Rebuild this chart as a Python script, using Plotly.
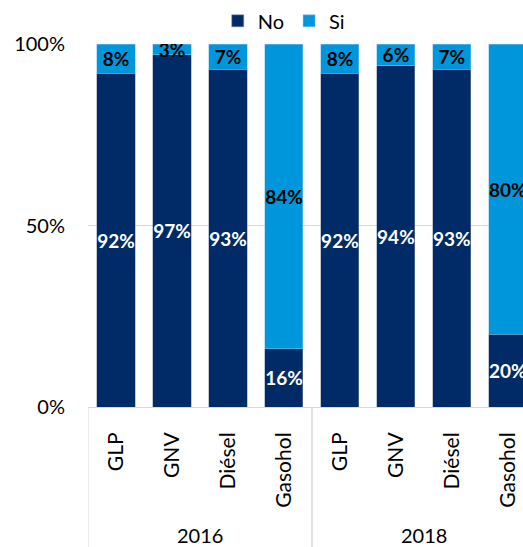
import plotly.graph_objects as go

years = ["2016", "2016", "2016", "2016", "2018", "2018", "2018", "2018"]
fuels = ["GLP", "GNV", "Diésel", "Gasohol", "GLP", "GNV", "Diésel", "Gasohol"]
no_vals = [92, 97, 93, 16, 92, 94, 93, 20]
si_vals = [8, 3, 7, 84, 8, 6, 7, 80]

NAVY = "#002B66"
BLUE = "#0096DB"
GRID = "#d9d9d9"
FONT = "Lato"

pos = list(range(len(fuels)))

fig = go.Figure()
fig.add_trace(go.Bar(
    x=pos, y=no_vals, name="No", marker=dict(color=NAVY, line=dict(color="#8090b0", width=0.5)),
    text=[f"{v}%" for v in no_vals], textposition="inside", textangle=0,
    insidetextanchor="middle", constraintext="none",
    textfont=dict(family=FONT, size=19, color="white", weight="bold"),
))
fig.add_trace(go.Bar(
    x=pos, y=si_vals, name="Si", marker=dict(color=BLUE, line=dict(color="#80c8ee", width=0.5)),
    text=[f"{v}%" for v in si_vals], textposition="inside", textangle=0,
    insidetextanchor="middle", constraintext="none",
    textfont=dict(family=FONT, size=19, color="black", weight="bold"),
))

# group labels and dividers for the year groups
groups = []
for i, y in enumerate(years):
    if not groups or groups[-1][0] != y:
        groups.append([y, i, i])
    else:
        groups[-1][2] = i

plot_h = 547 - 44 - 140
bottom = -140 / plot_h
for name, a, b in groups:
    fig.add_annotation(x=(a + b) / 2, y=-128 / plot_h, xref="x", yref="paper",
                       text=name, showarrow=False, font=dict(family=FONT, size=20),
                       yanchor="middle")
    for edge in (a - 0.5, b + 0.5):
        fig.add_shape(type="line", xref="x", yref="paper", x0=edge, x1=edge,
                      y0=0, y1=bottom, line=dict(color=GRID, width=1))

fig.update_layout(
    barmode="stack",
    bargap=0.32,
    width=523, height=547,
    margin=dict(l=88, r=0, t=44, b=140),
    plot_bgcolor="white", paper_bgcolor="white",
    font=dict(family=FONT, size=20, color="black"),
    legend=dict(orientation="h", x=0.45, xanchor="center", y=1.01, yanchor="bottom",
                font=dict(family=FONT, size=20), itemwidth=30, traceorder="normal"),
    showlegend=True,
)
fig.update_yaxes(
    range=[0, 100], tickvals=[0, 50, 100], ticktext=["0%", "50%", "100%"],
    showgrid=True, gridcolor=GRID, gridwidth=1, zeroline=False,
    ticklabelstandoff=22, tickfont=dict(family=FONT, size=20),
)
fig.update_xaxes(
    range=[-0.5, 7.27], tickangle=-90,
    tickvals=pos, ticktext=fuels,
    showline=True, linecolor=GRID, linewidth=1, showgrid=False, zeroline=False,
    ticklabelstandoff=16,
    tickfont=dict(family=FONT, size=21, weight="normal"),
)

fig.write_html("out.html", config={"displayModeBar": False},
               post_script="document.body.style.margin='0';document.body.style.overflow='hidden';")
